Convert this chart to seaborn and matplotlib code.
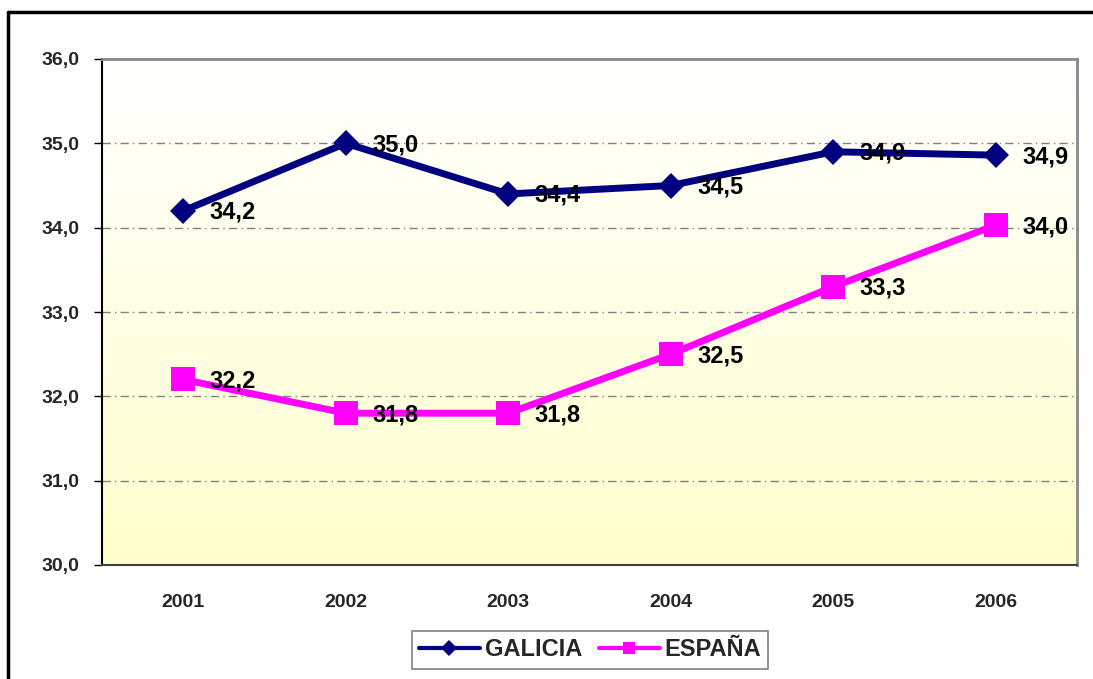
import numpy as np
import pandas as pd
import matplotlib
matplotlib.use("Agg")
import matplotlib.pyplot as plt
from matplotlib.lines import Line2D
from matplotlib.colors import LinearSegmentedColormap
import seaborn as sns

years = ["2001", "2002", "2003", "2004", "2005", "2006"]
galicia = [34.2, 35.0, 34.4, 34.5, 34.9, 34.86]
espana = [32.2, 31.8, 31.8, 32.5, 33.3, 34.03]
galicia_labels = ["34,2", "35,0", "34,4", "34,5", "34,9", "34,9"]
espana_labels = ["32,2", "31,8", "31,8", "32,5", "33,3", "34,0"]
series_names = ["GALICIA", "ESPAÑA"]
y_ticks = [30.0, 31.0, 32.0, 33.0, 34.0, 35.0, 36.0]
y_tick_labels = ["30,0", "31,0", "32,0", "33,0", "34,0", "35,0", "36,0"]

sns.set_theme(style="white")
plt.rcParams['font.family'] = ['Liberation Sans', 'DejaVu Sans']

df = pd.DataFrame({
    "x": list(range(len(years))) * 2,
    "value": galicia + espana,
    "serie": [series_names[0]] * len(years) + [series_names[1]] * len(years),
})

fig = plt.figure(figsize=(10.93, 6.79), dpi=100)
ax = fig.add_axes([102 / 1093, 1 - 565 / 679, (1077 - 102) / 1093, (565 - 59) / 679])

# gradient background
cmap = LinearSegmentedColormap.from_list("bg", ["#FFFFCC", "#FFFFFF"])
grad = np.linspace(0, 1, 256).reshape(-1, 1)
ax.imshow(grad, extent=[0, 1, 0, 1], transform=ax.transAxes, cmap=cmap,
          origin="lower", aspect="auto", zorder=0)

palette = {series_names[0]: "#000080", series_names[1]: "#FF00FF"}
sns.lineplot(data=df, x="x", y="value", hue="serie", style="serie",
             markers={series_names[0]: "D", series_names[1]: "s"},
             dashes=False, palette=palette, linewidth=5, legend=False,
             ax=ax, zorder=3)
lines = ax.get_lines()
for ln, ms in zip(lines, [13.5, 17]):
    ln.set_markersize(ms)
    ln.set_markeredgewidth(0)

for vals, labs in [(galicia, galicia_labels), (espana, espana_labels)]:
    for i, (v, l) in enumerate(zip(vals, labs)):
        ax.annotate(l, (i, v), xytext=(19, -1), textcoords="offset points",
                    ha="left", va="center", fontsize=17, fontweight="bold",
                    color="black", zorder=4)

ax.set_xlim(-0.5, len(years) - 0.5)
ax.set_ylim(30, 36)
ax.set_yticks(y_ticks)
ax.set_yticklabels(y_tick_labels, fontsize=14, fontweight="bold")
ax.set_xticks(range(len(years)))
ax.set_xticklabels(years, fontsize=14, fontweight="bold")
ax.set_xticks(np.arange(-0.5, len(years), 1), minor=True)
ax.tick_params(axis="x", which="major", length=0, pad=21)
ax.tick_params(axis="x", which="minor", length=6, width=1, color="black", direction="out")
ax.tick_params(axis="y", which="major", length=6, width=1, color="black", direction="out", left=True, pad=10)
ax.set_xlabel("")
ax.set_ylabel("")

for y in y_ticks[1:-1]:
    ax.axhline(y, color="#808080", linewidth=1, linestyle=(0, (6, 3, 1, 3)), zorder=1)

ax.spines["left"].set_color("black")
ax.spines["left"].set_linewidth(1.5)
ax.spines["bottom"].set_color("#404040")
ax.spines["bottom"].set_linewidth(1.5)
ax.spines["top"].set_color("#888888")
ax.spines["top"].set_linewidth(2)
ax.spines["right"].set_color("#888888")
ax.spines["right"].set_linewidth(2)

handles = [Line2D([0], [0], color="#000080", lw=3, marker="D", markersize=8, markeredgewidth=0),
           Line2D([0], [0], color="#FF00FF", lw=3, marker="s", markersize=9, markeredgewidth=0)]
leg = fig.legend(handles, series_names, loc="center", bbox_to_anchor=(590 / 1093, 1 - 650 / 679),
                 ncol=2, frameon=True, fancybox=False, edgecolor="#808080", framealpha=1,
                 prop={"size": 17, "weight": "bold"}, handlelength=2.6, columnspacing=0.7,
                 handletextpad=0.2, borderpad=0.3)
leg.get_frame().set_linewidth(1.2)

# outer frame
fig.add_artist(Line2D([8 / 1093, 1], [1 - 12 / 679, 1 - 12 / 679], color="black", lw=2.5,
                      transform=fig.transFigure))
fig.add_artist(Line2D([8 / 1093, 8 / 1093], [0, 1 - 12 / 679], color="black", lw=2.5,
                      transform=fig.transFigure))

fig.savefig("out.png", dpi=100)
